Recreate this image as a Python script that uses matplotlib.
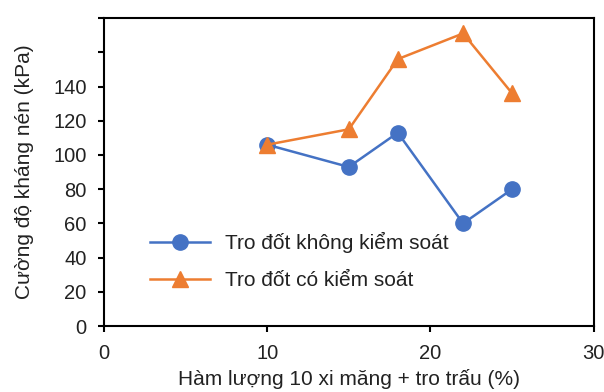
import numpy as np
import matplotlib
matplotlib.use("Agg")
import matplotlib.pyplot as plt

# Hàm lượng (%) và cường độ kháng nén (kPa)
ham_luong = [10, 15, 18, 22, 25]
khong_kiem_soat = [106, 93, 113, 60, 80]
co_kiem_soat = [106, 115, 156, 171, 136]
nhan_1 = "Tro đốt không kiểm soát"
nhan_2 = "Tro đốt có kiểm soát"

plt.rcParams['font.family'] = ['Liberation Sans', 'DejaVu Sans']

fig = plt.figure(figsize=(6.04, 3.92), dpi=100)
ax = fig.add_axes([0.172, 0.168, 0.811, 0.786])

ax.plot(ham_luong, khong_kiem_soat, color='#4472C4', marker='o',
        markersize=11, linewidth=1.8, label=nhan_1)
ax.plot(ham_luong, co_kiem_soat, color='#ED7D31', marker='^',
        markersize=11, linewidth=1.8, label=nhan_2)

ax.set_xlim(0, 30)
ax.set_ylim(0, 180)
ax.set_xticks([0, 10, 20, 30])
ax.set_yticks(np.arange(0, 181, 20))
# nhãn trục tung chỉ đến 140
ax.set_yticklabels([str(v) if v <= 140 else '' for v in range(0, 181, 20)])
ax.tick_params(direction='out', length=4.5, width=1.5, labelsize=14.5,
               pad=8, labelcolor='#222222')
for sp in ax.spines.values():
    sp.set_linewidth(1.5)

ax.set_xlabel("Hàm lượng 10 xi măng + tro trấu (%)", fontsize=15,
              labelpad=5, color='#222222')
ax.set_ylabel("Cường độ kháng nén (kPa)", fontsize=15, labelpad=14,
              color='#222222')

ax.legend(loc='upper left', bbox_to_anchor=(0.094, 0.305), frameon=False,
          fontsize=15, handlelength=2.9, handletextpad=0.7,
          labelspacing=0.85, borderpad=0, borderaxespad=0,
          labelcolor='#222222')

fig.savefig("out.png", dpi=100)
